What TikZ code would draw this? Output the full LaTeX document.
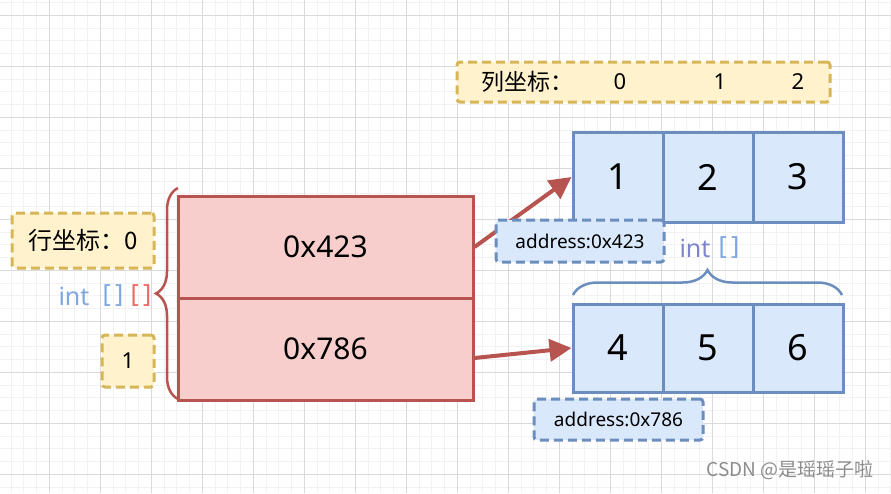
\documentclass[tikz,border=0pt]{standalone}
\usepackage{fontspec}
\setmainfont{Noto Sans}
\newfontfamily\cjk{Noto Sans CJK SC}
\usetikzlibrary{arrows.meta,decorations.pathreplacing}
\definecolor{redfill}{HTML}{F8CECC}
\definecolor{reddraw}{HTML}{B85450}
\definecolor{bluefill}{HTML}{DAE8FC}
\definecolor{bluedraw}{HTML}{6C8EBF}
\definecolor{yellowfill}{HTML}{FFF2CC}
\definecolor{yellowdraw}{HTML}{D6B656}
\definecolor{typeblue}{HTML}{7EA6E0}
\definecolor{typered}{HTML}{EA6B66}
\definecolor{gridminor}{HTML}{F2F2F2}
\definecolor{gridmajor}{HTML}{DADADA}
\begin{document}
\begin{tikzpicture}[x=1pt,y=-1pt,
    rowcell/.style={draw=reddraw,fill=redfill,line width=3pt,minimum width=295pt,
      minimum height=102pt,inner sep=0pt,font=\fontsize{30}{30}\selectfont},
    arrcell/.style={draw=bluedraw,fill=bluefill,line width=3pt,minimum width=90pt,
      inner sep=0pt,font=\fontsize{36}{36}\selectfont},
    tagbox/.style={draw=yellowdraw,fill=yellowfill,line width=3pt,
      dash pattern=on 9pt off 5pt,rounded corners=3pt,inner sep=0pt},
    addrbox/.style={draw=bluedraw,fill=bluefill,line width=3pt,
      dash pattern=on 9pt off 5pt,rounded corners=3pt,inner sep=0pt,
      font=\fontsize{19}{19}\selectfont},
    ptr/.style={draw=reddraw,line width=4pt,-{Triangle[length=22pt,width=22pt]}},
    typetext/.style={inner sep=0pt,font=\fontsize{25}{25}\selectfont}]
  \useasboundingbox (0,0) rectangle (891,493);
  % background grid
  \foreach \i in {0,...,70}
    \draw[gridminor,line width=1pt] ({-1.7+12.75*\i},0) -- ({-1.7+12.75*\i},493);
  \foreach \i in {0,...,40}
    \draw[gridminor,line width=1pt] (0,{15.3+12.75*(\i-2)}) -- (891,{15.3+12.75*(\i-2)});
  \foreach \i in {0,...,18}
    \draw[gridmajor,line width=1pt] ({-1.7+51*\i},0) -- ({-1.7+51*\i},493);
  \foreach \i in {0,...,10}
    \draw[gridmajor,line width=1pt] (0,{15.3+51*\i}) -- (891,{15.3+51*\i});

  % outer array: one cell per row
  \node[rowcell] (r0) at (325.5,247) {0x423};
  \node[rowcell] (r1) at (325.5,349) {0x786};
  \coordinate (lb) at (178,399);
  \coordinate (lt) at (178,188);
  \draw[reddraw,line width=2.5pt,decorate,decoration={brace,amplitude=22pt}] (lb) -- (lt);

  % row labels
  \node[tagbox,minimum width=142pt,minimum height=55pt,font=\fontsize{24}{24}\cjk] (rowtag) at (83,240.5) {行坐标：0};
  \node[tagbox,minimum width=52pt,minimum height=52pt,font=\fontsize{22}{22}\selectfont] (rowone) at (128,361) {1};
  \node[typetext,text=typeblue] (ti) at (74,296) {int};
  \node[typetext,text=typeblue] (tb1) at (113,296) {[\,]};
  \node[typetext,text=typered] (tb2) at (141,296) {[\,]};

  % column label
  \node[tagbox,minimum width=373pt,minimum height=40pt] (coltag) at (643.5,82) {};
  \node[inner sep=0pt,font=\fontsize{23}{23}\cjk] (coltxt) at (527,82) {列坐标：};
  \node[inner sep=0pt,font=\fontsize{22}{22}\selectfont] (c0) at (620,82) {0};
  \node[inner sep=0pt,font=\fontsize{22}{22}\selectfont] (c1) at (720,82) {1};
  \node[inner sep=0pt,font=\fontsize{22}{22}\selectfont] (c2) at (798,82) {2};

  % inner arrays
  \node[arrcell,minimum height=90pt] (a00) at (618,177) {1};
  \node[arrcell,minimum height=90pt] (a01) at (708,177) {2};
  \node[arrcell,minimum height=90pt] (a02) at (798,177) {3};
  \node[arrcell,minimum height=88pt] (a10) at (618,348) {4};
  \node[arrcell,minimum height=88pt] (a11) at (708,348) {5};
  \node[arrcell,minimum height=88pt] (a12) at (798,348) {6};

  % pointers
  \draw[ptr] (r0.east) -- (a00.west);
  \draw[ptr] ([yshift=-9pt]r1.east) -- (a10.west);

  % addresses
  \node[addrbox,minimum width=168pt,minimum height=42pt] (ad0) at (580,241) {address:0x423};
  \node[addrbox,minimum width=169pt,minimum height=41pt] (ad1) at (618.5,419.5) {address:0x786};

  % inner type
  \coordinate (bl) at (573,295);
  \coordinate (br) at (842,295);
  \draw[bluedraw,line width=2.5pt,decorate,decoration={brace,amplitude=25pt}] (bl) -- (br);
  \node[typetext,text=typeblue!80!violet] (ii) at (695,248) {int};
  \node[typetext,text=typeblue] (ib) at (729,248) {[\,]};

  \node[inner sep=0pt,text=black!45,font=\fontsize{19}{19}\cjk] (mark) at (790,470) {CSDN @是瑶瑶子啦};
\end{tikzpicture}
\end{document}
